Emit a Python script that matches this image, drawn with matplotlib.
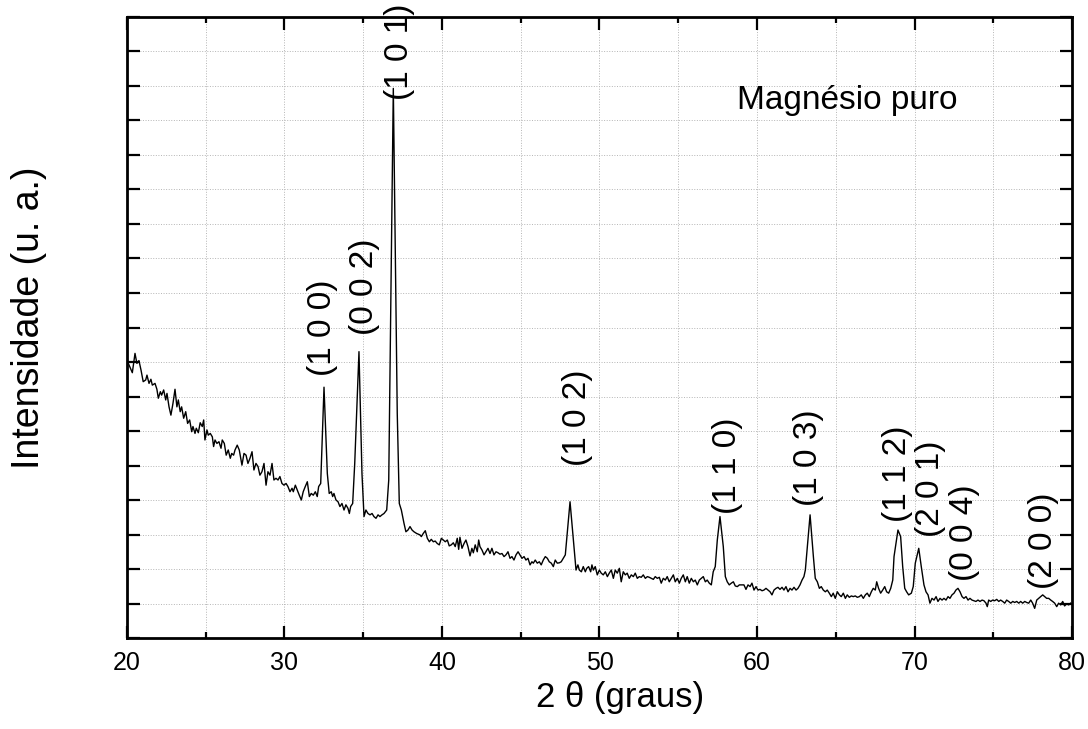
"""
Difratograma de raios X - magnésio puro
"""
import matplotlib
matplotlib.use('Agg')
import matplotlib.pyplot as plt
from matplotlib.ticker import MultipleLocator, NullFormatter

plt.rcParams['font.family'] = ['Liberation Sans', 'DejaVu Sans']

# 2θ (graus)
two_theta = [
    20.04, 20.34, 20.51, 20.63, 20.76, 20.89, 21.03, 21.19, 21.27, 21.40,
    21.52, 21.61, 21.78, 21.90, 21.99, 22.12, 22.20, 22.33, 22.46, 22.54,
    22.67, 22.79, 22.92, 23.05, 23.17, 23.26, 23.38, 23.47, 23.60, 23.73,
    23.85, 23.98, 24.11, 24.19, 24.32, 24.40, 24.53, 24.65, 24.78, 24.87,
    24.95, 25.08, 25.16, 25.29, 25.42, 25.50, 25.59, 25.71, 25.84, 25.97,
    26.05, 26.18, 26.30, 26.43, 26.56, 26.65, 26.77, 26.86, 27.00, 27.13,
    27.30, 27.43, 27.56, 27.68, 27.81, 27.94, 28.06, 28.19, 28.32, 28.44,
    28.57, 28.70, 28.83, 28.95, 29.08, 29.21, 29.33, 29.46, 29.59, 29.71,
    29.84, 29.97, 30.10, 30.22, 30.35, 30.48, 30.56, 30.69, 30.81, 30.94,
    31.07, 31.19, 31.32, 31.45, 31.58, 31.70, 31.83, 31.96, 32.08, 32.17,
    32.30, 32.51, 32.72, 32.84, 32.97, 33.06, 33.14, 33.27, 33.40, 33.52,
    33.65, 33.78, 33.90, 34.03, 34.12, 34.20, 34.33, 34.46, 34.73, 34.92,
    35.05, 35.17, 35.30, 35.43, 35.56, 35.68, 35.81, 35.94, 36.06, 36.19,
    36.32, 36.49, 36.62, 36.91, 37.16, 37.29, 37.42, 37.59, 37.71, 37.84,
    37.97, 38.10, 38.22, 38.39, 38.60, 38.69, 38.81, 38.94, 39.07, 39.20,
    39.32, 39.45, 39.57, 39.70, 39.83, 39.96, 40.08, 40.21, 40.34, 40.46,
    40.59, 40.72, 40.84, 40.97, 41.06, 41.14, 41.27, 41.40, 41.52, 41.65,
    41.78, 41.90, 41.99, 42.11, 42.24, 42.33, 42.41, 42.54, 42.67, 42.79,
    42.92, 43.05, 43.17, 43.30, 43.43, 43.56, 43.68, 43.81, 43.94, 44.06,
    44.19, 44.32, 44.44, 44.57, 44.70, 44.83, 44.95, 45.08, 45.21, 45.33,
    45.46, 45.59, 45.71, 45.80, 45.92, 46.05, 46.18, 46.30, 46.43, 46.56,
    46.69, 46.81, 46.94, 47.07, 47.19, 47.32, 47.45, 47.57, 47.70, 47.83,
    48.13, 48.38, 48.51, 48.63, 48.72, 48.85, 48.97, 49.10, 49.19, 49.31,
    49.44, 49.52, 49.61, 49.73, 49.86, 49.99, 50.11, 50.24, 50.37, 50.50,
    50.62, 50.75, 50.88, 51.00, 51.13, 51.26, 51.38, 51.51, 51.64, 51.76,
    51.89, 52.02, 52.15, 52.27, 52.40, 52.53, 52.65, 52.78, 52.91, 53.04,
    53.16, 53.29, 53.42, 53.54, 53.67, 53.80, 53.92, 54.05, 54.18, 54.30,
    54.43, 54.56, 54.69, 54.81, 54.94, 55.07, 55.19, 55.32, 55.45, 55.57,
    55.70, 55.83, 55.96, 56.08, 56.21, 56.34, 56.46, 56.59, 56.72, 56.84,
    56.97, 57.10, 57.22, 57.35, 57.48, 57.65, 57.86, 57.99, 58.11, 58.24,
    58.37, 58.50, 58.62, 58.75, 58.88, 59.17, 59.30, 59.43, 59.56, 59.68,
    59.81, 59.94, 60.06, 60.19, 60.32, 60.44, 60.57, 60.70, 60.83, 60.95,
    61.08, 61.21, 61.33, 61.46, 61.59, 61.71, 61.84, 61.97, 62.10, 62.22,
    62.35, 62.48, 62.60, 62.73, 62.86, 62.98, 63.07, 63.37, 63.58, 63.70,
    63.83, 63.96, 64.08, 64.21, 64.34, 64.46, 64.59, 64.72, 64.84, 64.97,
    65.10, 65.23, 65.35, 65.48, 65.61, 65.73, 65.86, 65.99, 66.11, 66.24,
    66.37, 66.50, 66.62, 66.75, 66.88, 67.00, 67.13, 67.26, 67.38, 67.51,
    67.60, 67.72, 67.85, 67.98, 68.11, 68.23, 68.36, 68.49, 68.62, 68.70,
    68.95, 69.12, 69.25, 69.38, 69.50, 69.63, 69.80, 69.92, 70.05, 70.27,
    70.43, 70.60, 70.73, 70.86, 70.98, 71.11, 71.24, 71.37, 71.49, 71.62,
    71.75, 71.87, 72.00, 72.13, 72.25, 72.38, 72.51, 72.63, 72.76, 72.89,
    73.02, 73.14, 73.27, 73.40, 73.52, 73.65, 73.78, 73.90, 74.03, 74.16,
    74.29, 74.41, 74.54, 74.62, 74.71, 74.84, 74.96, 75.09, 75.22, 75.35,
    75.47, 75.60, 75.73, 75.85, 75.98, 76.11, 76.24, 76.36, 76.49, 76.62,
    76.74, 76.87, 77.00, 77.12, 77.25, 77.38, 77.50, 77.63, 77.76, 77.88,
    78.01, 78.14, 78.27, 78.39, 78.52, 78.65, 78.77, 78.90, 79.03, 79.15,
    79.28, 79.41, 79.53, 79.66, 79.79, 79.91,
]

# intensidade (u. a.)
intensity = [
    801, 769, 825, 796, 804, 777, 743, 748, 762, 738,
    750, 733, 738, 721, 695, 714, 704, 719, 690, 709,
    670, 646, 680, 721, 670, 690, 656, 670, 637, 656,
    622, 632, 598, 613, 593, 608, 595, 624, 613, 632,
    574, 603, 588, 593, 583, 555, 574, 564, 569, 550,
    574, 564, 530, 545, 521, 535, 530, 545, 559, 545,
    501, 535, 530, 506, 521, 540, 487, 506, 497, 472,
    482, 506, 443, 482, 472, 506, 458, 463, 458, 468,
    448, 443, 448, 439, 424, 434, 424, 443, 429, 414,
    400, 424, 439, 453, 410, 419, 414, 424, 410, 439,
    448, 727, 477, 419, 424, 410, 419, 400, 395, 381,
    390, 371, 386, 376, 361, 381, 390, 506, 830, 477,
    352, 371, 361, 357, 361, 352, 347, 357, 352, 357,
    361, 371, 458, 1593, 651, 390, 371, 332, 308, 313,
    323, 313, 308, 303, 299, 294, 303, 311, 289, 279,
    286, 279, 281, 274, 270, 289, 284, 279, 284, 267,
    270, 276, 265, 289, 257, 292, 260, 274, 284, 265,
    238, 260, 247, 270, 250, 284, 265, 255, 241, 250,
    260, 245, 260, 241, 250, 247, 243, 245, 236, 241,
    250, 231, 236, 226, 241, 250, 241, 231, 236, 226,
    231, 212, 221, 217, 226, 217, 221, 212, 226, 236,
    231, 221, 217, 207, 226, 217, 218, 221, 231, 241,
    395, 265, 197, 212, 197, 192, 207, 192, 202, 207,
    192, 212, 197, 207, 183, 197, 188, 183, 192, 178,
    188, 197, 173, 197, 188, 202, 163, 192, 183, 188,
    173, 183, 178, 188, 173, 178, 176, 183, 173, 178,
    176, 173, 170, 178, 173, 176, 159, 173, 168, 178,
    163, 173, 183, 163, 173, 159, 173, 183, 163, 178,
    159, 173, 163, 168, 154, 168, 173, 178, 163, 168,
    159, 154, 192, 207, 284, 352, 265, 178, 163, 154,
    159, 163, 151, 149, 154, 154, 141, 154, 149, 159,
    139, 149, 139, 141, 137, 139, 144, 139, 134, 125,
    139, 144, 147, 141, 147, 139, 149, 134, 144, 139,
    147, 139, 144, 154, 168, 178, 197, 357, 236, 173,
    163, 144, 149, 139, 134, 139, 130, 120, 130, 115,
    134, 125, 120, 130, 115, 125, 118, 122, 120, 122,
    118, 120, 125, 115, 125, 130, 120, 134, 144, 139,
    163, 144, 130, 139, 149, 134, 130, 144, 168, 236,
    313, 294, 207, 144, 134, 125, 130, 149, 217, 260,
    207, 154, 134, 125, 101, 115, 110, 120, 106, 115,
    110, 115, 110, 120, 115, 125, 130, 139, 144, 134,
    120, 115, 120, 110, 115, 110, 108, 106, 110, 106,
    110, 108, 101, 91, 110, 106, 110, 108, 112, 106,
    110, 106, 101, 110, 106, 101, 106, 103, 106, 101,
    106, 101, 106, 103, 101, 110, 101, 86, 110, 115,
    120, 125, 120, 115, 115, 110, 106, 101, 91, 101,
    96, 106, 93, 99, 96, 101,
]

# índices de Miller e posição dos rótulos (2θ, intensidade do centro)
peak_labels = ['(1 0 0)', '(0 0 2)', '(1 0 1)', '(1 0 2)', '(1 1 0)',
               '(1 0 3)', '(1 1 2)', '(2 0 1)', '(0 0 4)', '(2 0 0)']
label_x = [32.4, 35.1, 37.3, 48.6, 58.1, 63.3, 68.9, 71.0, 73.2, 78.2]
label_y = [898, 1017, 1698, 638, 499, 522, 477, 433, 304, 281]

fig = plt.figure(figsize=(10.88, 7.29), dpi=100)
ax = fig.add_axes([0.1167, 0.1248, 0.8686, 0.8519])

ax.plot(two_theta, intensity, color='black', linewidth=1.0)

for lab, lx, ly in zip(peak_labels, label_x, label_y):
    ax.text(lx, ly, lab, rotation=90, ha='center', va='center', fontsize=24)

ax.text(0.762, 0.866, 'Magnésio puro', transform=ax.transAxes,
        ha='center', va='center', fontsize=24)

ax.set_xlim(20, 80)
ax.set_ylim(0, 1800)
ax.xaxis.set_major_locator(MultipleLocator(10))
ax.xaxis.set_minor_locator(MultipleLocator(5))
ax.yaxis.set_major_locator(MultipleLocator(100))
ax.yaxis.set_major_formatter(NullFormatter())

ax.grid(True, which='both', linestyle=':', color='#b5b5b5', linewidth=0.7)
ax.tick_params(which='both', direction='in', top=True, right=True, width=1.6)
ax.tick_params(which='major', length=9, labelsize=18, pad=9)
ax.tick_params(which='minor', length=4.5)
for s in ax.spines.values():
    s.set_linewidth(2)

ax.set_xlabel('2 θ (graus)', fontsize=25)
ax.xaxis.set_label_coords(0.522, -0.069)
ax.set_ylabel('Intensidade (u. a.)', fontsize=27)
ax.yaxis.set_label_coords(-0.085, 0.515)

plt.savefig('out.png', dpi=100)
plt.close()
